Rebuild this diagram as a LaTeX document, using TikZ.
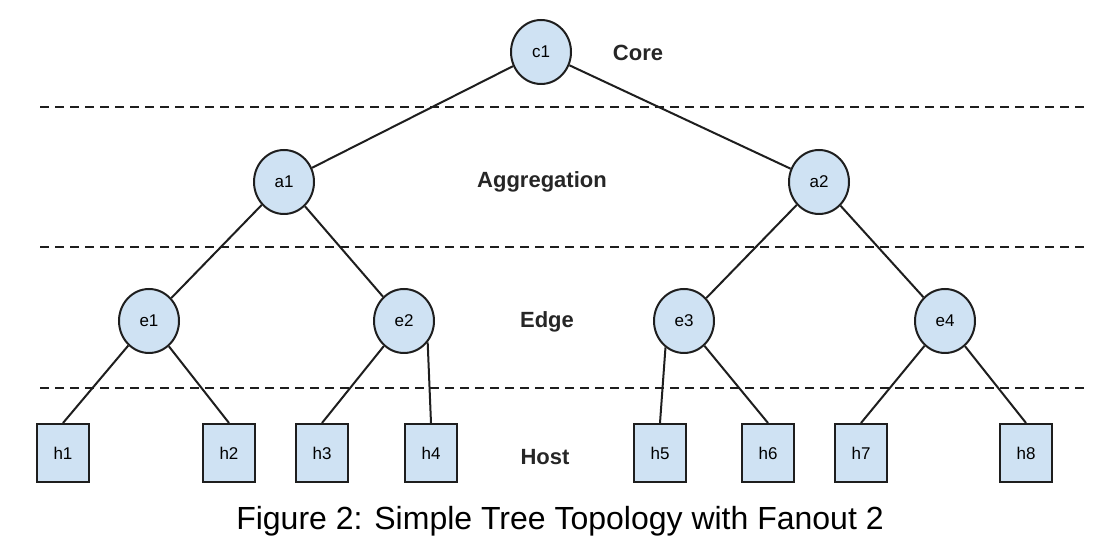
\documentclass[tikz,border=0pt]{standalone}
\usepackage{fontspec}
\setmainfont{Liberation Sans}
\definecolor{NodeFill}{RGB}{207,226,243}
\definecolor{LineColor}{RGB}{30,30,30}
\usepackage{tikz}
\usetikzlibrary{positioning, shapes.geometric}
\tikzstyle{switch} = [ellipse, minimum width=30pt, minimum height=32pt, inner sep=0pt, draw=LineColor, line width=1pt, fill=NodeFill, font=\fontsize{8.5}{10}\selectfont]
\tikzstyle{host} = [rectangle, minimum width=26pt, minimum height=29pt, inner sep=0pt, draw=LineColor, line width=1pt, fill=NodeFill, font=\fontsize{8.5}{10}\selectfont]
\tikzstyle{layer} = [font=\fontsize{11}{13}\selectfont\bfseries, text=black!85]
\tikzstyle{link} = [line width=1pt, LineColor]
\tikzstyle{divider} = [line width=1pt, LineColor, dash pattern=on 4.5pt off 3pt]

\begin{document}
\begin{tikzpicture}[x=0.5pt, y=-0.5pt]
            \useasboundingbox (0,0) rectangle (1120,560);

            % Layer dividers
            \foreach \y/\n in {107/1,247/2,388/3} {
                    \coordinate (dl\n) at (40,\y);
                    \coordinate (dr\n) at (1088,\y);
                    \draw[divider] (dl\n) -- (dr\n);
                }

            % Switches
            \node[switch] (c1) at (541,52) {c1};
            \node[switch] (a1) at (284,182) {a1};
            \node[switch] (a2) at (819,182) {a2};
            \node[switch] (e1) at (149,321) {e1};
            \node[switch] (e2) at (404,321) {e2};
            \node[switch] (e3) at (684,321) {e3};
            \node[switch] (e4) at (945,321) {e4};

            % Hosts
            \foreach \n/\x in {1/63,2/229,3/322,4/431,5/660,6/768,7/861,8/1026} {
                    \node[host] (h\n) at (\x,453) {h\n};
                }

            % Links
            \foreach \a/\b in {c1/a1,c1/a2,a1/e1,a1/e2,a2/e3,a2/e4} {
                    \draw[link] (\a) -- (\b);
                }
            \draw[link] (e1) -- (h1.north);
            \draw[link] (e1) -- (h2.north);
            \draw[link] (e2) -- (h3.north);
            \draw[link] (e2.-42) -- (h4.north);
            \draw[link] (e3.-125) -- (h5.north);
            \draw[link] (e3) -- (h6.north);
            \draw[link] (e4) -- (h7.north);
            \draw[link] (e4) -- (h8.north);

            % Labels
            \node[layer] (core) at (638,53) {Core};
            \node[layer] (agg) at (542,182) {Aggregation};
            \node[layer] (edge) at (547,322) {Edge};
            \node[layer] (hostlbl) at (545,457) {Host};
            \node[font=\fontsize{16}{19}\selectfont] (caption) at (560,521) {Figure 2: Simple Tree Topology with Fanout 2};
        \end{tikzpicture}
\end{document}
